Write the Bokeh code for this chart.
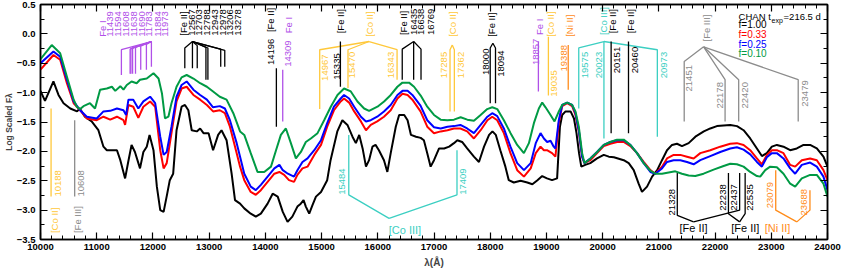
import math
from bokeh.plotting import figure
from bokeh.models import (Range1d, LinearAxis, SingleIntervalTicker,
                          CustomJSTickFormatter, NumeralTickFormatter, ColumnDataSource)
from bokeh.core.properties import value
from bokeh.embed import file_html
from bokeh.resources import INLINE

FONT = "Liberation Sans"

# ---------------- spectra (wavelength [A], log scaled flux) ----------------
spec_black = [
    (10000,-0.97),(10080,-1.14),(10140,-1.01),(10230,-0.81),(10320,-1.04),(10410,-1.18),(10530,-1.27),
    (10650,-1.32),(10700,-1.27),(10790,-1.41),(10910,-1.49),(11030,-1.64),(11120,-1.92),(11180,-1.98),
    (11270,-1.98),(11360,-1.98),(11420,-2.15),(11505,-2.46),(11560,-2.18),(11620,-1.89),(11680,-2.01),
    (11770,-2.29),(11830,-2.01),(11890,-1.92),(11940,-1.72),(12010,-1.98),(12070,-2.60),(12130,-3.00),
    (12190,-3.03),(12250,-2.74),(12300,-2.49),(12360,-2.38),(12420,-1.64),(12510,-1.24),(12570,-1.21),
    (12630,-1.30),(12690,-1.64),(12780,-1.66),(12840,-1.61),(12900,-1.69),(12990,-1.69),(13070,-1.98),
    (13160,-1.72),(13220,-1.64),(13310,-1.81),(13400,-2.38),(13460,-2.83),(13550,-2.89),(13625,-2.97),
    (13740,-3.06),(13830,-3.11),(13920,-3.06),(14040,-2.89),(14130,-2.72),(14220,-2.77),(14310,-3.03),
    (14395,-3.20),(14480,-3.11),(14570,-2.94),(14630,-2.89),(14680,-2.83),(14720,-2.94),(14780,-3.06),
    (14840,-2.91),(14900,-2.77),(14990,-2.69),(15100,-2.49),(15160,-2.15),(15280,-1.66),(15370,-1.47),
    (15460,-1.55),(15550,-1.75),(15610,-1.86),(15670,-1.72),(15730,-1.95),(15790,-2.26),(15845,-2.15),
    (15905,-1.92),(15960,-1.89),(16020,-1.98),(16110,-2.15),(16170,-2.35),(16230,-2.03),(16320,-1.58),
    (16380,-1.38),(16470,-1.38),(16530,-1.47),(16590,-1.72),(16680,-1.75),(16763,-1.77),(16820,-1.81),
    (16880,-2.03),(16940,-2.26),(17000,-2.15),(17090,-1.95),(17180,-1.95),(17270,-1.92),(17355,-1.86),
    (17415,-1.81),(17500,-1.84),(17590,-1.95),(17710,-2.09),(17800,-2.18),(17890,-1.92),(17980,-1.72),
    (18040,-1.66),(18100,-1.72),(18180,-1.98),(18270,-2.26),(18330,-2.49),(18420,-2.53),(18540,-2.50),
    (18660,-2.53),(18750,-2.56),(18840,-2.49),(18925,-2.42),(19010,-2.46),(19100,-2.49),(19190,-2.46),
    (19240,-1.58),(19280,-1.38),(19340,-1.32),(19430,-1.32),(19490,-1.44),(19535,-1.69),(19580,-2.03),
    (19620,-2.26),(19690,-2.23),(19780,-2.20),(19900,-2.12),(20020,-2.06),(20110,-2.09),(20200,-2.10),
    (20375,-2.15),(20464,-2.20),(20553,-2.32),(20640,-2.55),(20700,-2.69),(20790,-2.60),(20880,-2.43),
    (20970,-2.32),(21056,-2.15),(21145,-1.98),(21234,-1.89),(21322,-1.87),(21411,-1.91),(21530,-1.86),
    (21650,-1.75),(21800,-1.66),(21915,-1.61),(22033,-1.57),(22150,-1.56),(22270,-1.55),(22390,-1.57),
    (22507,-1.64),(22625,-1.78),(22744,-1.95),(22833,-2.08),(22920,-2.03),(23010,-1.92),(23100,-1.89),
    (23217,-1.92),(23336,-1.98),(23454,-1.95),(23573,-1.89),(23691,-1.89),(23810,-1.95),(23928,-2.09),
    (24000,-2.26)]

spec_red = [
    (10000,-0.61),(10230,-0.36),(10350,-0.44),(10470,-0.84),(10590,-1.18),(10705,-1.30),(10824,-1.44),
    (11000,-1.47),(11120,-1.41),(11240,-1.46),(11360,-1.41),(11476,-1.47),(11505,-1.55),(11564,-1.21),
    (11650,-1.24),(11740,-1.43),(11830,-1.24),(11950,-1.15),(12040,-1.24),(12130,-1.98),(12190,-2.29),
    (12245,-2.20),(12330,-1.69),(12420,-1.15),(12510,-0.93),(12600,-0.90),(12720,-1.04),(12840,-1.12),
    (12960,-1.21),(13070,-1.32),(13190,-1.30),(13280,-1.35),(13370,-1.58),(13490,-2.03),(13550,-2.26),
    (13625,-2.49),(13740,-2.69),(13830,-2.74),(13920,-2.66),(14040,-2.52),(14160,-2.38),(14250,-2.35),
    (14335,-2.40),(14420,-2.49),(14510,-2.52),(14570,-2.40),(14660,-2.29),(14750,-2.26),(14870,-2.06),
    (14990,-1.89),(15100,-1.58),(15220,-1.30),(15340,-1.15),(15400,-1.10),(15490,-1.17),(15580,-1.32),
    (15700,-1.49),(15790,-1.64),(15875,-1.55),(15990,-1.49),(16110,-1.41),(16230,-1.30),(16350,-1.10),
    (16440,-1.02),(16530,-1.04),(16615,-1.12),(16760,-1.32),(16880,-1.58),(17000,-1.69),(17120,-1.66),
    (17240,-1.64),(17355,-1.61),(17470,-1.61),(17590,-1.66),(17710,-1.78),(17830,-1.64),(17950,-1.47),
    (18036,-1.41),(18125,-1.47),(18243,-1.69),(18360,-2.03),(18480,-2.32),(18600,-2.43),(18720,-2.29),
    (18810,-2.03),(18895,-1.92),(18955,-1.98),(19010,-1.98),(19100,-2.03),(19160,-2.09),(19220,-1.52),
    (19280,-1.23),(19370,-1.18),(19457,-1.23),(19517,-1.38),(19576,-1.66),(19635,-2.09),(19677,-2.20),
    (19780,-2.15),(19900,-2.03),(20020,-1.91),(20137,-1.87),(20256,-1.84),(20375,-1.84),(20493,-1.91),
    (20612,-2.03),(20730,-2.18),(20850,-2.32),(20937,-2.38),(21056,-2.26),(21145,-2.12),(21263,-2.06),
    (21382,-2.06),(21500,-2.09),(21619,-2.12),(21737,-2.03),(21915,-1.98),(22092,-1.92),(22270,-1.87),
    (22388,-1.86),(22507,-1.89),(22625,-1.98),(22744,-2.12),(22833,-2.22),(22921,-2.06),(23010,-1.98),
    (23099,-1.98),(23217,-2.03),(23336,-2.23),(23425,-2.26),(23543,-2.15),(23691,-2.12),(23810,-2.15),
    (23928,-2.32),(24000,-2.49)]

spec_blue = [
    (10000,-0.50),(10230,-0.30),(10350,-0.39),(10470,-0.78),(10590,-1.15),(10705,-1.30),(10824,-1.41),
    (11000,-1.44),(11120,-1.32),(11240,-1.31),(11360,-1.27),(11476,-1.30),(11523,-1.38),(11564,-1.12),
    (11650,-1.12),(11740,-1.27),(11830,-1.15),(11950,-1.07),(12040,-1.18),(12130,-1.75),(12190,-2.06),
    (12245,-2.01),(12330,-1.58),(12420,-1.07),(12510,-0.87),(12600,-0.81),(12720,-0.95),(12840,-1.04),
    (12960,-1.12),(13070,-1.25),(13190,-1.23),(13280,-1.27),(13370,-1.47),(13490,-1.86),(13550,-2.09),
    (13625,-2.38),(13740,-2.60),(13830,-2.66),(13920,-2.57),(14040,-2.43),(14160,-2.29),(14250,-2.23),
    (14310,-2.32),(14400,-2.38),(14510,-2.43),(14570,-2.32),(14660,-2.18),(14750,-2.12),(14870,-1.98),
    (14990,-1.81),(15100,-1.52),(15220,-1.24),(15340,-1.10),(15400,-1.04),(15490,-1.10),(15580,-1.24),
    (15700,-1.41),(15790,-1.49),(15875,-1.47),(15990,-1.41),(16110,-1.32),(16230,-1.21),(16350,-1.04),
    (16440,-0.97),(16530,-0.97),(16615,-1.04),(16760,-1.22),(16880,-1.47),(17000,-1.59),(17120,-1.61),
    (17240,-1.58),(17355,-1.57),(17470,-1.55),(17590,-1.61),(17710,-1.69),(17830,-1.55),(17950,-1.41),
    (18036,-1.35),(18125,-1.40),(18243,-1.61),(18360,-1.92),(18480,-2.20),(18600,-2.32),(18720,-2.20),
    (18810,-1.86),(18895,-1.69),(18955,-1.78),(19013,-1.84),(19073,-1.82),(19130,-1.92),(19160,-1.95),
    (19220,-1.47),(19280,-1.21),(19370,-1.17),(19457,-1.21),(19517,-1.35),(19576,-1.64),(19635,-2.09),
    (19677,-2.20),(19780,-2.12),(19900,-2.01),(20020,-1.89),(20137,-1.84),(20256,-1.81),(20375,-1.81),
    (20493,-1.89),(20612,-2.03),(20730,-2.20),(20850,-2.35),(20937,-2.38),(21056,-2.29),(21145,-2.18),
    (21263,-2.15),(21382,-2.15),(21500,-2.18),(21619,-2.22),(21737,-2.15),(21915,-2.08),(22092,-2.01),
    (22270,-1.95),(22388,-1.93),(22507,-1.97),(22625,-2.05),(22744,-2.18),(22833,-2.26),(22921,-2.10),
    (23010,-2.03),(23099,-2.03),(23217,-2.12),(23336,-2.29),(23425,-2.38),(23543,-2.23),(23691,-2.19),
    (23810,-2.26),(23928,-2.43),(24000,-2.66)]

spec_green = [
    (10000,-0.43),(10200,-0.19),(10350,-0.33),(10470,-0.73),(10590,-1.12),(10646,-1.24),(10705,-1.28),
    (10765,-1.23),(10880,-1.18),(10970,-1.27),(11060,-0.95),(11180,-0.93),(11270,-0.90),(11330,-0.97),
    (11420,-0.89),(11476,-0.95),(11535,-0.87),(11620,-0.81),(11710,-0.84),(11770,-0.78),(11890,-0.76),
    (12010,-0.67),(12100,-0.76),(12160,-1.01),(12215,-1.44),(12275,-1.41),(12330,-1.18),(12420,-0.90),
    (12510,-0.74),(12600,-0.70),(12720,-0.76),(12840,-0.84),(12960,-0.90),(13070,-0.98),(13190,-1.07),
    (13310,-1.12),(13430,-1.35),(13550,-1.66),(13625,-1.72),(13740,-2.03),(13860,-2.35),(13980,-2.35),
    (14100,-2.26),(14190,-1.98),(14276,-1.72),(14365,-1.61),(14454,-1.86),(14543,-2.12),(14632,-2.01),
    (14720,-1.84),(14809,-1.78),(14928,-1.69),(15046,-1.47),(15164,-1.24),(15283,-1.04),(15400,-0.93),
    (15520,-0.98),(15638,-1.15),(15757,-1.27),(15845,-1.31),(15994,-1.24),(16112,-1.15),(16231,-1.04),
    (16349,-0.90),(16438,-0.83),(16556,-0.83),(16645,-0.90),(16763,-1.05),(16880,-1.24),(17000,-1.38),
    (17118,-1.46),(17237,-1.47),(17355,-1.46),(17474,-1.42),(17592,-1.46),(17710,-1.48),(17829,-1.38),
    (17947,-1.28),(18036,-1.25),(18125,-1.28),(18243,-1.47),(18362,-1.69),(18480,-1.89),(18599,-2.03),
    (18688,-1.86),(18777,-1.52),(18865,-1.27),(18925,-1.17),(18984,-1.25),(19073,-1.38),(19144,-1.49),
    (19221,-1.32),(19280,-1.21),(19369,-1.17),(19457,-1.21),(19517,-1.32),(19576,-1.58),(19635,-2.03),
    (19677,-2.20),(19783,-2.12),(19902,-2.01),(20020,-1.89),(20137,-1.84),(20256,-1.80),(20375,-1.80),
    (20493,-1.89),(20612,-2.03),(20730,-2.20),(20849,-2.33),(20937,-2.38),(21056,-2.38),(21174,-2.36),
    (21293,-2.34),(21411,-2.38),(21530,-2.41),(21648,-2.42),(21796,-2.38),(21974,-2.31),(22152,-2.25),
    (22270,-2.21),(22388,-2.22),(22507,-2.26),(22625,-2.35),(22744,-2.42),(22803,-2.43),(22892,-2.32),
    (22981,-2.26),(23099,-2.27),(23217,-2.38),(23336,-2.55),(23425,-2.60),(23543,-2.46),(23691,-2.40),
    (23810,-2.40),(23928,-2.55),(24000,-2.77)]

series_names = ["f=1.00", "f=0.33", "f=0.25", "f=0.10"]
model_name = "CHAN t"
model_sub = "exp"
model_time = "=216.5 d"
x_title = "\u03bb(\u00c5)"
y_title = "Log Scaled F\u03bb"

# ---------------- line identifications (wavelengths) ----------------
ids_fe1_a = [11439, 11594, 11608, 11638, 11690, 11783, 11884, 11973]
ids_fe2_a = [12567, 12703, 12788, 12943, 12978, 13206, 13278]
ids_co2_a = [14967, 15470, 16343]
ids_fe2_b = [16435, 16638, 16769]
ids_co2_b = [17285, 17362]
ids_fe2_c = [18000, 18094]
ids_co3_a = [19575, 20023, 20973]
ids_fe3_a = [21451, 22178, 22420, 23479]
ids_co3_b = [15484, 17409]
ids_fe2_d = [21328, 22437]
ids_fe2_e = [22238, 22535]
ids_ni2_a = [23079, 23688]

C_BLACK = "#000000"; C_RED = "#FF0000"; C_BLUE = "#0000FF"; C_GREEN = "#009A44"
C_VIOLET = "#B050E8"; C_GOLD = "#FFC83A"; C_CYAN = "#3CCFC2"; C_GREY = "#8C8C8C"; C_ORANGE = "#FF8C1A"

# fan layout: (ids, colour, apex (lam, level), knee levels, end levels)
fans = [
    (ids_fe1_a, C_VIOLET, (11973, -0.13), [-0.27, -0.26, -0.25, -0.24, -0.23, -0.21, -0.18, -0.13],
     [-0.70, -0.68, -0.68, -0.68, -0.68, -0.61, -0.61, -0.56]),
    (ids_fe2_a, C_BLACK, (12703, -0.13), [-0.24, -0.13, -0.20, -0.23, -0.24, -0.26, -0.28],
     [-0.585, -0.585, -0.585, -0.78, -0.78, -0.56, -0.56]),
    (ids_co2_a, C_GOLD, (15845, -0.13), [-0.27, -0.27, -0.27], [-1.28, -0.92, -0.78]),
    (ids_fe2_b, C_BLACK, (16638, -0.13), [-0.26, -0.13, -0.26], [-0.78, -0.78, -0.78]),
    (ids_co2_b, C_GOLD, (17325, -0.19), [-0.27, -0.27], [-1.32, -1.32]),
    (ids_fe2_c, C_BLACK, (18047, -0.16), [-0.24, -0.24], [-1.18, -1.18]),
    (ids_co3_a, C_CYAN, (20023, -0.13), [-0.24, -0.13, -0.27], [-1.27, -1.78, -1.75]),
    (ids_fe3_a, C_GREY, (21796, -0.22), [-0.47, -0.78, -0.78, -0.78], [-1.49, -1.49, -1.49, -1.49]),
    (ids_co3_b, C_CYAN, (16201, -3.14), [-2.74, -2.74], [-1.72, -1.98]),
    (ids_fe2_d, C_BLACK, (21618, -3.20), [-3.09, -3.00], [-2.37, -2.37]),
    (ids_fe2_e, C_BLACK, (22437, -3.20), [-3.06, -3.06], [-2.37, -2.37]),
    (ids_ni2_a, C_ORANGE, (23455, -3.20), [-3.00, -3.00], [-2.32, -2.66]),
]

# single line markers: (lam, top level, bottom level, colour)
singles = [
    (10188, -1.27, -2.77, C_GOLD), (10608, -1.47, -2.77, C_GREY),
    (14196, -0.585, -1.58, C_BLACK), (14309, -0.61, -1.49, C_VIOLET),
    (15335, -0.13, -0.90, C_BLACK), (18857, -0.13, -0.98, C_VIOLET),
    (19035, -0.05, -1.05, C_GOLD), (19388, -0.19, -0.95, C_ORANGE),
    (20151, -0.13, -1.69, C_BLACK), (20460, -0.13, -1.69, C_BLACK),
]

# rotated labels: (text, lam, bottom level, colour)
vlabels = [
    ("Fe I", 11096, -0.05, C_VIOLET), ("11439", 11244, -0.05, C_VIOLET), ("11594", 11380, -0.05, C_VIOLET),
    ("11608", 11522, -0.05, C_VIOLET), ("11638", 11659, -0.05, C_VIOLET), ("11690", 11801, -0.05, C_VIOLET),
    ("11783", 11936, -0.05, C_VIOLET), ("11884", 12086, -0.05, C_VIOLET), ("11973", 12215, -0.05, C_VIOLET),
    ("[Fe II]", 12547, -0.03, C_BLACK), ("12567", 12690, -0.03, C_BLACK), ("12703", 12825, -0.03, C_BLACK),
    ("12788", 12961, -0.03, C_BLACK), ("12943", 13104, -0.03, C_BLACK), ("12978", 13240, -0.03, C_BLACK),
    ("13206", 13375, -0.03, C_BLACK), ("13278", 13518, -0.03, C_BLACK),
    ("[Fe II]", 14098, 0.03, C_BLACK), ("14196", 14098, -0.53, C_BLACK),
    ("Fe I", 14409, 0.01, C_VIOLET), ("14309", 14409, -0.56, C_VIOLET),
    ("[Co II]", 15845, -0.05, C_GOLD), ("14967", 15058, -0.80, C_GOLD), ("15470", 15537, -0.755, C_GOLD),
    ("16343", 16230, -0.755, C_GOLD),
    ("[Fe II]", 15330, 0.01, C_BLACK), ("15335", 15271, -0.78, C_BLACK),
    ("[Fe II]", 16456, -0.02, C_BLACK), ("16435", 16644, -0.02, C_BLACK), ("16638", 16763, -0.02, C_BLACK),
    ("16769", 16941, -0.02, C_BLACK),
    ("[Co II]", 17326, -0.05, C_GOLD), ("17285", 17177, -0.755, C_GOLD), ("17362", 17474, -0.755, C_GOLD),
    ("[Fe II]", 18025, -0.05, C_BLACK), ("18000", 17918, -0.70, C_BLACK), ("18094", 18197, -0.73, C_BLACK),
    ("Fe I", 18876, -0.02, C_VIOLET), ("18857", 18806, -0.53, C_VIOLET),
    ("[Co II]", 19073, -0.05, C_GOLD), ("19035", 19131, -1.07, C_GOLD),
    ("[Ni II]", 19415, -0.05, C_ORANGE), ("19388", 19309, -0.64, C_ORANGE),
    ("[Co III]", 20009, -0.02, C_CYAN), ("19575", 19694, -0.755, C_CYAN), ("20023", 19930, -0.755, C_CYAN),
    ("20973", 21085, -0.755, C_CYAN),
    ("[Fe II]", 20169, 0.01, C_BLACK), ("20151", 20258, -0.67, C_BLACK),
    ("[Fe II]", 20493, 0.01, C_BLACK), ("20460", 20583, -0.67, C_BLACK),
    ("[Fe III]", 21856, -0.13, C_GREY), ("21451", 21530, -0.98, C_GREY), ("22178", 22093, -1.27, C_GREY),
    ("22420", 22537, -1.27, C_GREY), ("23479", 23603, -1.24, C_GREY),
    ("10188", 10309, -2.77, C_GOLD), ("[Co II]", 10249, -3.39, C_GOLD),
    ("10608", 10723, -2.77, C_GREY), ("[Fe III]", 10652, -3.39, C_GREY),
    ("15484", 15372, -2.74, C_CYAN), ("17409", 17521, -2.74, C_CYAN),
    ("21328", 21235, -3.09, C_BLACK), ("22238", 22133, -3.01, C_BLACK), ("22437", 22341, -3.01, C_BLACK),
    ("22535", 22613, -3.01, C_BLACK),
    ("23079", 22981, -2.97, C_ORANGE), ("23688", 23590, -3.09, C_ORANGE),
]

# horizontal labels: (text, lam centre, level, colour)
hlabels = [
    ("[Co III]", 16483, -3.34, C_CYAN), ("[Fe II]", 21618, -3.30, C_BLACK),
    ("[Fe II]", 22537, -3.30, C_BLACK), ("[Ni II]", 23111, -3.30, C_ORANGE),
]

# ---------------- figure ----------------
p = figure(width=841, height=271, x_range=Range1d(10000, 24000), y_range=Range1d(-3.5, 0.5),
           output_backend="svg", toolbar_location=None,
           min_border_left=39, min_border_right=14, min_border_top=4, min_border_bottom=32)
p.grid.visible = False
p.outline_line_color = "black"
p.outline_line_width = 1.5
p.background_fill_color = "white"
p.border_fill_color = "white"

def style_axis(ax, show_labels):
    ax.axis_line_width = 1.5
    ax.axis_line_color = "black"
    ax.major_tick_in = 7
    ax.major_tick_out = 0
    ax.minor_tick_in = 4
    ax.minor_tick_out = 0
    ax.major_tick_line_width = 1.2
    ax.minor_tick_line_width = 1.0
    ax.major_label_text_font = FONT
    ax.major_label_text_font_style = "bold"
    ax.major_label_text_color = "black"
    ax.axis_label_text_font = FONT
    ax.axis_label_text_font_style = "bold"
    if show_labels:
        ax.major_label_text_font_size = "9.5px"
    else:
        ax.major_label_text_font_size = "1px"
        ax.major_label_text_color = None
        ax.major_label_standoff = 0

p.xaxis.ticker = SingleIntervalTicker(interval=1000, num_minor_ticks=5)
p.yaxis.ticker = SingleIntervalTicker(interval=0.5, num_minor_ticks=2)
p.xaxis.formatter = NumeralTickFormatter(format="0")
p.yaxis.formatter = CustomJSTickFormatter(code="return tick.toFixed(1).replace('-', '\u2212');")
style_axis(p.xaxis[0], True)
style_axis(p.yaxis[0], True)
p.xaxis.major_label_standoff = 4
p.yaxis.major_label_standoff = 5
p.xaxis.axis_label = x_title
p.xaxis.axis_label_text_font_size = "10px"
p.xaxis.axis_label_standoff = 4
p.yaxis.axis_label = y_title
p.yaxis.axis_label_text_font_size = "8.5px"
p.yaxis.axis_label_standoff = 0

top_ax = LinearAxis(ticker=SingleIntervalTicker(interval=1000, num_minor_ticks=5))
right_ax = LinearAxis(ticker=SingleIntervalTicker(interval=0.5, num_minor_ticks=2))
style_axis(top_ax, False)
style_axis(right_ax, False)
p.add_layout(top_ax, "above")
p.add_layout(right_ax, "right")

# annotation lines
xs, ys, cols = [], [], []
for ids, col, apex, knees, ends in fans:
    for lam, kn, en in zip(ids, knees, ends):
        xs.append([lam, lam, apex[0]])
        ys.append([en, kn, apex[1]])
        cols.append(col)
for lam, top, bot, col in singles:
    xs.append([lam, lam])
    ys.append([top, bot])
    cols.append(col)
p.multi_line(xs=xs, ys=ys, line_color=cols, line_width=1.3)

# spectra
for spec, col in [(spec_black, C_BLACK), (spec_red, C_RED), (spec_blue, C_BLUE), (spec_green, C_GREEN)]:
    wl = [a for a, b in spec]
    fl = [b for a, b in spec]
    p.line(wl, fl, line_color=col, line_width=2)

# rotated labels
vsrc = ColumnDataSource(dict(x=[l[1] for l in vlabels], y=[l[2] for l in vlabels],
                             t=[l[0] for l in vlabels], c=[l[3] for l in vlabels]))
p.text(x="x", y="y", text="t", text_color="c", source=vsrc, angle=math.pi / 2,
       text_align="left", text_baseline="middle", text_font=value(FONT), text_font_size="9.5px")

hsrc = ColumnDataSource(dict(x=[l[1] for l in hlabels], y=[l[2] for l in hlabels],
                             t=[l[0] for l in hlabels], c=[l[3] for l in hlabels]))
p.text(x="x", y="y", text="t", text_color="c", source=hsrc,
       text_align="center", text_baseline="middle", text_font=value(FONT), text_font_size="11px")

# legend texts
leg_x = 22418
p.text(x=[leg_x], y=[0.295], text=[model_name], text_color="black", text_align="left",
       text_baseline="middle", text_font=value(FONT), text_font_size="9.5px")
p.text(x=[leg_x], y=[0.295], text=[model_sub], text_color="black", text_align="left",
       text_baseline="middle", text_font=value(FONT), text_font_size="7px", x_offset=33, y_offset=4)
p.text(x=[leg_x], y=[0.295], text=[model_time], text_color="black", text_align="left",
       text_baseline="middle", text_font=value(FONT), text_font_size="9.5px", x_offset=45)
for name, yy, col in zip(series_names, [0.154, -0.017, -0.175, -0.34], [C_BLACK, C_RED, C_BLUE, C_GREEN]):
    p.text(x=[leg_x], y=[yy], text=[name], text_color=col, text_align="left",
           text_baseline="middle", text_font=value(FONT), text_font_size="10px")

open("out.html", "w").write(file_html(p, INLINE))
